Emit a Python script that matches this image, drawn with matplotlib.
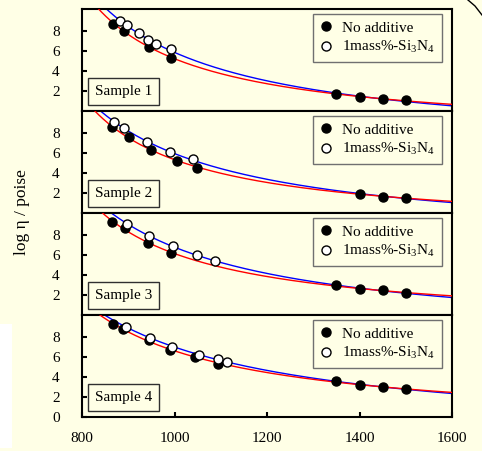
import numpy as np
import matplotlib
matplotlib.use("Agg")
import matplotlib.pyplot as plt
from matplotlib.lines import Line2D
from matplotlib.patches import Rectangle

plt.rcParams['font.family'] = ['Liberation Serif', 'DejaVu Serif']
plt.rcParams['mathtext.fontset'] = 'custom'
plt.rcParams['mathtext.rm'] = 'Liberation Serif'
plt.rcParams['mathtext.default'] = 'regular'

bg = '#FFFFE6'

# temperature (deg C) and log viscosity
samples = ["Sample 1", "Sample 2", "Sample 3", "Sample 4"]

t_none = [
    [868, 891, 945, 993, 1350, 1400, 1450, 1500],
    [864, 902, 949, 1005, 1049, 1400, 1450, 1500],
    [864, 894, 942, 992, 1350, 1400, 1450, 1500],
    [866, 889, 945, 990, 1045, 1093, 1350, 1400, 1450, 1500],
]
y_none = [
    [8.73, 8.0, 6.43, 5.33, 1.67, 1.4, 1.23, 1.07],
    [8.6, 7.63, 6.33, 5.2, 4.53, 1.93, 1.6, 1.53],
    [9.33, 8.73, 7.17, 6.23, 2.97, 2.57, 2.47, 2.23],
    [9.3, 8.8, 7.73, 6.7, 5.97, 5.3, 3.63, 3.23, 2.97, 2.77],
]
t_si = [
    [882, 897, 923, 942, 961, 992],
    [870, 891, 940, 991, 1039],
    [897, 945, 996, 1049, 1088],
    [895, 946, 995, 1052, 1093, 1114],
]
y_si = [
    [9.0, 8.6, 7.77, 7.1, 6.67, 6.17],
    [9.13, 8.47, 7.13, 6.07, 5.37],
    [9.13, 7.9, 6.9, 5.97, 5.4],
    [9.03, 7.93, 7.0, 6.23, 5.77, 5.53],
]


def vft_fit(T, y):
    # log eta = A + B / (T - T0), best T0 on a grid
    T = np.asarray(T, float)
    y = np.asarray(y, float)
    best = None
    for T0 in np.arange(0, T.min() - 10, 2.0):
        X = np.column_stack([np.ones_like(T), 1.0 / (T - T0)])
        coef = np.linalg.lstsq(X, y, rcond=None)[0]
        err = np.sum((X @ coef - y) ** 2)
        if best is None or err < best[0]:
            best = (err, coef[0], coef[1], T0)
    return best[1:]


fig = plt.figure(figsize=(4.82, 4.51), dpi=100, facecolor=bg)
fig.add_artist(Rectangle((0, 3 / 451), 12 / 482, 124 / 451, transform=fig.transFigure,
                         facecolor='white', edgecolor='none', zorder=-1))
fig.add_artist(Line2D([468 / 482, 475 / 482, 482 / 482], [1.0, 1 - 6 / 451, 1 - 15 / 451],
                      transform=fig.transFigure, color='black', lw=1.0))

left, right = 82 / 482, 452 / 482
top, bottom = 1 - 9 / 451, 1 - 417 / 451
h = (top - bottom) / 4

axes = []
for i in range(4):
    ax = fig.add_axes([left, top - (i + 1) * h, right - left, h], facecolor=bg)
    axes.append(ax)

    tn = np.array(t_none[i], float)
    yn = np.array(y_none[i], float)
    ts = np.array(t_si[i], float)
    ys = np.array(y_si[i], float)
    hot = tn > 1300

    A, B, T0 = vft_fit(tn, yn)
    tt = np.linspace(max(800, T0 + 3), 1600, 400)
    A2, B2, T02 = vft_fit(np.r_[ts, tn[hot]], np.r_[ys, yn[hot]])
    tt2 = np.linspace(max(800, T02 + 3), 1600, 400)

    ax.plot(tt2, A2 + B2 / (tt2 - T02), color='#0000FF', lw=1.0, zorder=2)
    ax.plot(tt, A + B / (tt - T0), color='#FF0000', lw=1.0, zorder=3)
    ax.plot(tn, yn, 'o', color='black', ms=6.5, zorder=4, label='No additive')
    ax.plot(ts, ys, 'o', mfc='white', mec='black', mew=1.0, ms=6.5, zorder=5,
            label='1mass%-Si$_3$N$_4$')

    ax.set_xlim(800, 1600)
    ax.set_ylim(0, 10.2)
    if i < 3:
        ax.set_yticks([2, 4, 6, 8])
    else:
        ax.set_yticks([0, 2, 4, 6, 8])
    ax.tick_params(axis='y', direction='in', length=3.6, width=1.5, pad=16, labelsize=11)
    ax.tick_params(axis='x', direction='in', length=3.6, width=1.5, pad=11, labelsize=11)
    ax.set_xticks([800, 1000, 1200, 1400, 1600])
    if i < 3:
        ax.tick_params(axis='x', bottom=False, labelbottom=False)
    for s in ax.spines.values():
        s.set_linewidth(1.5)

    leg = ax.legend(loc='upper right', bbox_to_anchor=(0.973, 0.95), borderaxespad=0,
                    fontsize=11, handlelength=0.9, handletextpad=0.6, borderpad=0.45,
                    labelspacing=0.3, fancybox=False, framealpha=1, facecolor=bg,
                    edgecolor='#707070')
    leg.get_frame().set_linewidth(1.0)

    ax.text(13 / 370, 13 / 102, samples[i], transform=ax.transAxes, fontsize=11,
            ha='left', va='bottom',
            bbox=dict(boxstyle='square,pad=0.45', facecolor=bg, edgecolor='#303030', lw=1.0))

fig.text(22 / 482, 1 - 212 / 451, 'log η / poise', rotation=90, fontsize=12.5,
         ha='center', va='center')

fig.savefig('out.png', dpi=100, facecolor=bg)
